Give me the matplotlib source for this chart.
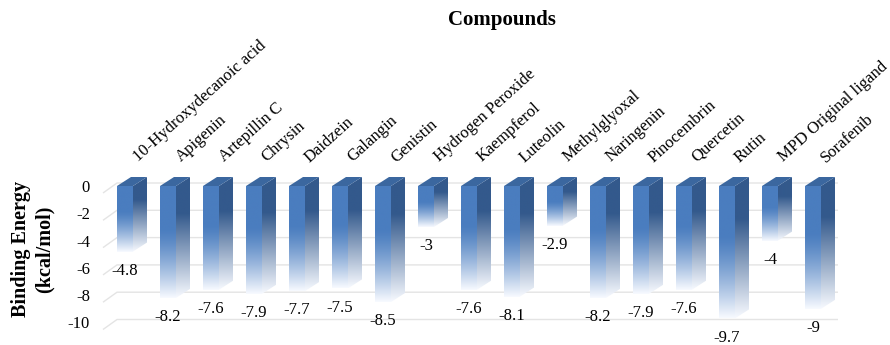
import numpy as np
import matplotlib
matplotlib.use("Agg")
import matplotlib.pyplot as plt
from matplotlib.patches import Polygon
from matplotlib.colors import to_rgb

compounds = ["10-Hydroxydecanoic acid", "Apigenin", "Artepillin C", "Chrysin",
             "Daidzein", "Galangin", "Genistin", "Hydrogen Peroxide", "Kaempferol",
             "Luteolin", "Methylglyoxal", "Naringenin", "Pinocembrin", "Quercetin",
             "Rutin", "MPD Original ligand", "Sorafenib"]
energies = [-4.8, -8.2, -7.6, -7.9, -7.7, -7.5, -8.5, -3, -7.6, -8.1, -2.9,
            -8.2, -7.9, -7.6, -9.7, -4, -9]
yticks = [0, -2, -4, -6, -8, -10]

plt.rcParams['font.family'] = ['Liberation Serif', 'DejaVu Serif']

W, H = 890, 345
fig = plt.figure(figsize=(8.9, 3.45), dpi=100)

# pixel mapping for layout
x0px, step = 125, 43
y0px, yscale = 186, 13.65
xlim = (-0.6, 16.9)
ylim = (-11.6, 0.9)
left_px = x0px + xlim[0] * step
right_px = x0px + xlim[1] * step
top_px = y0px - ylim[1] * yscale
bottom_px = y0px - ylim[0] * yscale
ax = fig.add_axes([left_px / W, 1 - bottom_px / H,
                   (right_px - left_px) / W, (bottom_px - top_px) / H])

hw = 8 / step        # half front width
dx = 14 / step       # depth x
dy = 9 / yscale      # depth y

front_c = np.array(to_rgb("#4a7dbf"))
side_c = np.array(to_rgb("#33598c"))
top_c = np.array(to_rgb("#3b679f"))
white = np.array([0.97, 0.98, 1.0])


def grad(color, n=256, start=0.38, power=1.3):
    t = np.linspace(0, 1, n)
    f = np.clip((t - start) / (1 - start), 0, 1) ** power
    rgb = color[None, :] * (1 - f[:, None]) + white[None, :] * f[:, None]
    return rgb[:, None, :]


# gridlines (back wall + left wall)
gx_front = (103 - x0px) / step
gx_back = -hw
gx_right = (838 - x0px) / step
for t in yticks:
    yb = t + 3 / yscale
    yf = t - 7 / yscale
    ax.plot([gx_front, gx_back, gx_right], [yf, yb, yb], color="#e4e4e4",
            lw=1, zorder=0.5, solid_capstyle='butt')

for i, v in enumerate(energies):
    # front face
    fl, fr = i - hw, i + hw
    im = ax.imshow(grad(front_c), extent=[fl, fr, v, 0], aspect='auto',
                   origin='upper', zorder=2, interpolation='bilinear')
    poly = Polygon([(fl, 0), (fr, 0), (fr, v), (fl, v)], closed=True,
                   transform=ax.transData, facecolor='none', edgecolor='none')
    im.set_clip_path(poly)
    # side face
    sp = Polygon([(fr, 0), (fr + dx, dy), (fr + dx, v + dy), (fr, v)],
                 closed=True, transform=ax.transData, facecolor='none',
                 edgecolor='none')
    im2 = ax.imshow(grad(side_c, start=0.3, power=1.0),
                    extent=[fr, fr + dx, v, dy], aspect='auto',
                    origin='upper', zorder=2, interpolation='bilinear')
    im2.set_clip_path(sp)
    # top face
    ax.add_patch(Polygon([(fl, 0), (fr, 0), (fr + dx, dy), (fl + dx, dy)],
                         closed=True, facecolor=top_c, edgecolor='none',
                         zorder=3))
    # value label
    ax.text(i, v - 1.42, f"{v:g}", ha='center', va='center', fontsize=12,
            color='black', zorder=4, clip_on=False)
    # category label
    ax.text(i + 0.3, 1.72, compounds[i], rotation=42, rotation_mode='anchor',
            ha='left', va='baseline', fontsize=12, clip_on=False)

ax.set_xlim(*xlim)
ax.set_ylim(*ylim)
ax.set_xticks([])
ax.set_yticks(yticks)
ax.set_yticklabels([f"{t:g}" for t in yticks], fontsize=12)
ax.tick_params(axis='y', length=0, pad=6.6)
for s in ax.spines.values():
    s.set_visible(False)
ax.patch.set_alpha(0)

fig.text(502 / W, 1 - 20 / H, "Compounds", ha='center', va='center',
         fontsize=15, fontweight='bold')
fig.text(33 / W, 1 - 249 / H, "Binding Energy\n(kcal/mol)", ha='center',
         va='center', rotation=90, fontsize=14.5, fontweight='bold',
         multialignment='center', linespacing=1.2)

fig.savefig("out.png", dpi=100)
